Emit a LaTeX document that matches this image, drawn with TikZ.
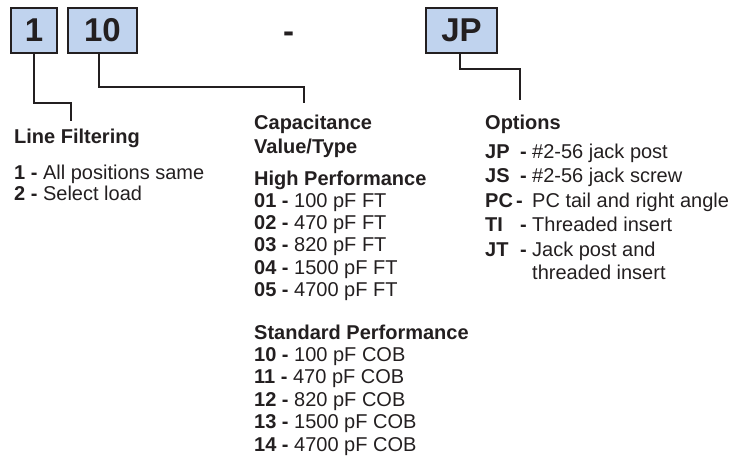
\documentclass[tikz,border=0pt]{standalone}
\usepackage{fontspec}
\setmainfont{Liberation Sans}
\definecolor{boxfill}{RGB}{192,211,238}
\definecolor{ink}{RGB}{35,31,32}
\begin{document}
\begin{tikzpicture}[x=1pt,y=-1pt,
  codebox/.style={draw=ink, line width=2.2pt, fill=boxfill, inner sep=0pt, minimum height=45pt,
    font=\fontsize{33}{33}\selectfont\bfseries, text=ink},
  lead/.style={draw=ink, line width=1.8pt},
  txt/.style={anchor=base west, inner sep=0pt, font=\fontsize{20}{24}\selectfont, text=ink},
  hd/.style={txt, font=\fontsize{20}{24}\selectfont\bfseries}]
\useasboundingbox (0,0) rectangle (747,461);
% code boxes
\node[codebox, minimum width=46pt] (b1) at (34,30.5) {1};
\node[codebox, minimum width=69pt] (b2) at (102.5,30.5) {10};
\node[anchor=base, inner sep=0pt, font=\fontsize{33}{33}\selectfont\bfseries, text=ink] (dsh) at (288.5,42) {-};
\node[codebox, minimum width=71pt] (b3) at (461.5,30.5) {JP};
% leader ends
\coordinate (lfend) at (71,121);
\coordinate (cvend) at (304,103);
\coordinate (opend) at (520,100);
\draw[lead] (b1.south) -- ++(0,49) -| (lfend);
\draw[lead] ([xshift=-3.5pt]b2.south) -- ++(0,33) -| (cvend);
\draw[lead] ([xshift=-1.5pt]b3.south) -- ++(0,15) -| (opend);
% Line filtering
\node[hd] (lf) at (14,143) {Line Filtering};
\node[txt] (lf1) at (14,179) {\textbf{1 -} All positions same};
\node[txt] (lf2) at (14,200) {\textbf{2 -} Select load};
% Capacitance
\node[hd] (cv) at (254,129) {Capacitance};
\node[hd] (cv2) at (254,153) {Value/Type};
\node[hd] (hp) at (254,185) {High Performance};
\node[txt] (h1) at (254,207) {\textbf{01 -} 100 pF FT};
\node[txt] (h2) at (254,229) {\textbf{02 -} 470 pF FT};
\node[txt] (h3) at (254,251.5) {\textbf{03 -} 820 pF FT};
\node[txt] (h4) at (254,274) {\textbf{04 -} 1500 pF FT};
\node[txt] (h5) at (254,296) {\textbf{05 -} 4700 pF FT};
\node[hd] (sp) at (254,339.5) {Standard Performance};
\node[txt] (s1) at (254,361.5) {\textbf{10 -} 100 pF COB};
\node[txt] (s2) at (254,383.5) {\textbf{11 -} 470 pF COB};
\node[txt] (s3) at (254,406) {\textbf{12 -} 820 pF COB};
\node[txt] (s4) at (254,428.5) {\textbf{13 -} 1500 pF COB};
\node[txt] (s5) at (254,451) {\textbf{14 -} 4700 pF COB};
% Options
\node[hd] (op) at (485,129) {Options};
\node[hd] (o1c) at (485,158) {JP};
\node[hd] (o1d) at (520,158) {-};
\node[txt] (o1) at (532,158) {\#2-56 jack post};
\node[hd] (o2c) at (485,182.5) {JS};
\node[hd] (o2d) at (520,182.5) {-};
\node[txt] (o2) at (532,182.5) {\#2-56 jack screw};
\node[hd] (o3c) at (485,207) {PC};
\node[hd] (o3d) at (516,207) {-};
\node[txt] (o3) at (532,207) {PC tail and right angle};
\node[hd] (o4c) at (485,231) {TI};
\node[hd] (o4d) at (520,231) {-};
\node[txt] (o4) at (532,231) {Threaded insert};
\node[hd] (o5c) at (485,256.5) {JT};
\node[hd] (o5d) at (520,256.5) {-};
\node[txt] (o5) at (532,256.5) {Jack post and};
\node[txt] (o6) at (532,279.5) {threaded insert};
\end{tikzpicture}
\end{document}
